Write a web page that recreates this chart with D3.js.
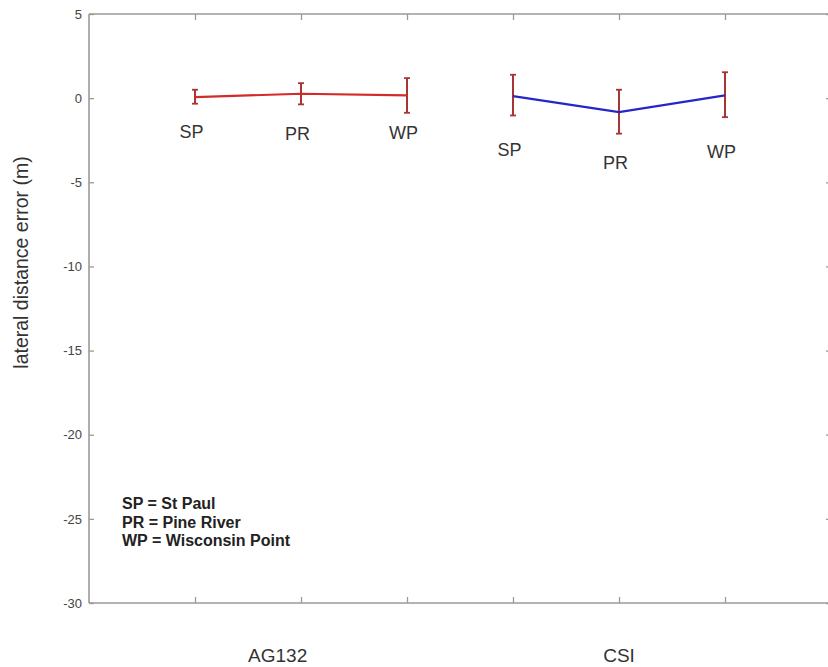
<!DOCTYPE html>
<html><head><meta charset="utf-8">
<script src="https://cdn.jsdelivr.net/npm/d3@7"></script>
<style>
html,body{margin:0;padding:0;background:#fff;}
svg{display:block;}
text{font-family:"Liberation Sans",Arial,Helvetica,sans-serif;}
</style></head>
<body>
<svg id="chart" width="828" height="667"></svg>
<script>
// ---- data ----
const groups = ["AG132", "CSI"];
const groupLabelX = [1.78, 5.0];
const sites = ["SP", "PR", "WP"];
const ag132X = [1, 2, 3];
const ag132Mean = [0.06, 0.26, 0.16];
const ag132Lower = [-0.33, -0.37, -0.87];
const ag132Upper = [0.50, 0.89, 1.19];
const ag132LabelY = [-2.0, -2.16, -2.1];
const csiX = [4, 5, 6];
const csiMean = [0.12, -0.83, 0.16];
const csiLower = [-1.03, -2.11, -1.13];
const csiUpper = [1.39, 0.50, 1.54];
const csiLabelY = [-3.1, -3.88, -3.22];
const yTicks = [5, 0, -5, -10, -15, -20, -25, -30];
const xTicks = [1, 2, 3, 4, 5, 6];
const legendLines = ["SP = St Paul", "PR = Pine River", "WP = Wisconsin Point"];
const yTitle = "lateral distance error (m)";

// ---- layout ----
const svg = d3.select("#chart");
const x = d3.scaleLinear().domain([0, 7]).range([89, 831]);
const y = d3.scaleLinear().domain([-30, 5]).range([603, 14]);
const axisColor = "#9a9a9a";

// frame
const frame = svg.append("g");
frame.append("line").attr("x1", x(0)).attr("x2", x(7)).attr("y1", y(5)).attr("y2", y(5));
frame.append("line").attr("x1", x(0)).attr("x2", x(7)).attr("y1", y(-30)).attr("y2", y(-30));
frame.append("line").attr("x1", x(0)).attr("x2", x(0)).attr("y1", y(5)).attr("y2", y(-30));
frame.append("line").attr("x1", x(7)).attr("x2", x(7)).attr("y1", y(5)).attr("y2", y(-30));
frame.selectAll("line").attr("stroke", axisColor).attr("stroke-width", 1.6);

// axes using d3 axis generators (ticks inward)
const yAxis = d3.axisLeft(y).tickValues(yTicks).tickSizeInner(-5).tickSizeOuter(0).tickPadding(7)
  .tickFormat(d => String(d));
const gy = svg.append("g").attr("transform", `translate(${x(0)},0)`).call(yAxis);
gy.select(".domain").remove();
gy.selectAll(".tick line").attr("stroke", axisColor).attr("stroke-width", 1.3);
gy.selectAll(".tick text").attr("fill", "#444").style("font-size", "13px")
  .attr("font-family", "'Liberation Sans Narrow','Liberation Sans',Arial,sans-serif");

const yAxisR = d3.axisRight(y).tickValues(yTicks).tickSizeInner(-5).tickSizeOuter(0).tickFormat("");
const gyr = svg.append("g").attr("transform", `translate(${x(7)},0)`).call(yAxisR);
gyr.select(".domain").remove();
gyr.selectAll(".tick line").attr("stroke", axisColor).attr("stroke-width", 1.3);

const xAxisB = d3.axisBottom(x).tickValues(xTicks).tickSizeInner(-6).tickSizeOuter(0).tickFormat("");
const gxb = svg.append("g").attr("transform", `translate(0,${y(-30)})`).call(xAxisB);
gxb.select(".domain").remove();
gxb.selectAll(".tick line").attr("stroke", axisColor).attr("stroke-width", 1.3);

const xAxisT = d3.axisTop(x).tickValues(xTicks).tickSizeInner(-6).tickSizeOuter(0).tickFormat("");
const gxt = svg.append("g").attr("transform", `translate(0,${y(5)})`).call(xAxisT);
gxt.select(".domain").remove();
gxt.selectAll(".tick line").attr("stroke", axisColor).attr("stroke-width", 1.3);

// series
const series = [
  {xs: ag132X, mean: ag132Mean, lo: ag132Lower, hi: ag132Upper, ly: ag132LabelY, line: "#d42a2a"},
  {xs: csiX, mean: csiMean, lo: csiLower, hi: csiUpper, ly: csiLabelY, line: "#2626c8"}
];
const barColor = "#a83434";
const line = d3.line().x(d => x(d[0])).y(d => y(d[1]));
series.forEach(s => {
  const pts = s.xs.map((v, i) => [v, s.mean[i]]);
  const g = svg.append("g");
  // error bars
  s.xs.forEach((v, i) => {
    g.append("line").attr("x1", x(v)).attr("x2", x(v)).attr("y1", y(s.lo[i])).attr("y2", y(s.hi[i]))
      .attr("stroke", barColor).attr("stroke-width", 2);
    [s.lo[i], s.hi[i]].forEach(e => {
      g.append("line").attr("x1", x(v) - 3).attr("x2", x(v) + 3).attr("y1", y(e)).attr("y2", y(e))
        .attr("stroke", barColor).attr("stroke-width", 1.8);
    });
  });
  g.append("path").datum(pts).attr("d", line).attr("fill", "none")
    .attr("stroke", s.line).attr("stroke-width", 2.2);
  // site labels
  s.xs.forEach((v, i) => {
    g.append("text").attr("x", x(v) - 3.5).attr("y", y(s.ly[i]))
      .attr("text-anchor", "middle").attr("dominant-baseline", "central")
      .attr("fill", "#333").style("font-size", "18px").text(sites[i]);
  });
});

// group labels
groups.forEach((gname, i) => {
  svg.append("text").attr("x", x(groupLabelX[i])).attr("y", 662)
    .attr("text-anchor", "middle").attr("fill", "#333").style("font-size", "19px").text(gname);
});

// y title
svg.append("text").attr("transform", `translate(28,${(y(5) + y(-30)) / 2 - 46}) rotate(-90)`)
  .attr("text-anchor", "middle").attr("fill", "#333").style("font-size", "19.5px").text(yTitle);

// legend
legendLines.forEach((t, i) => {
  svg.append("text").attr("x", 122).attr("y", 509 + i * 18.5)
    .attr("fill", "#222").style("font-size", "16px").style("font-weight", "bold").text(t);
});
</script>
</body></html>
